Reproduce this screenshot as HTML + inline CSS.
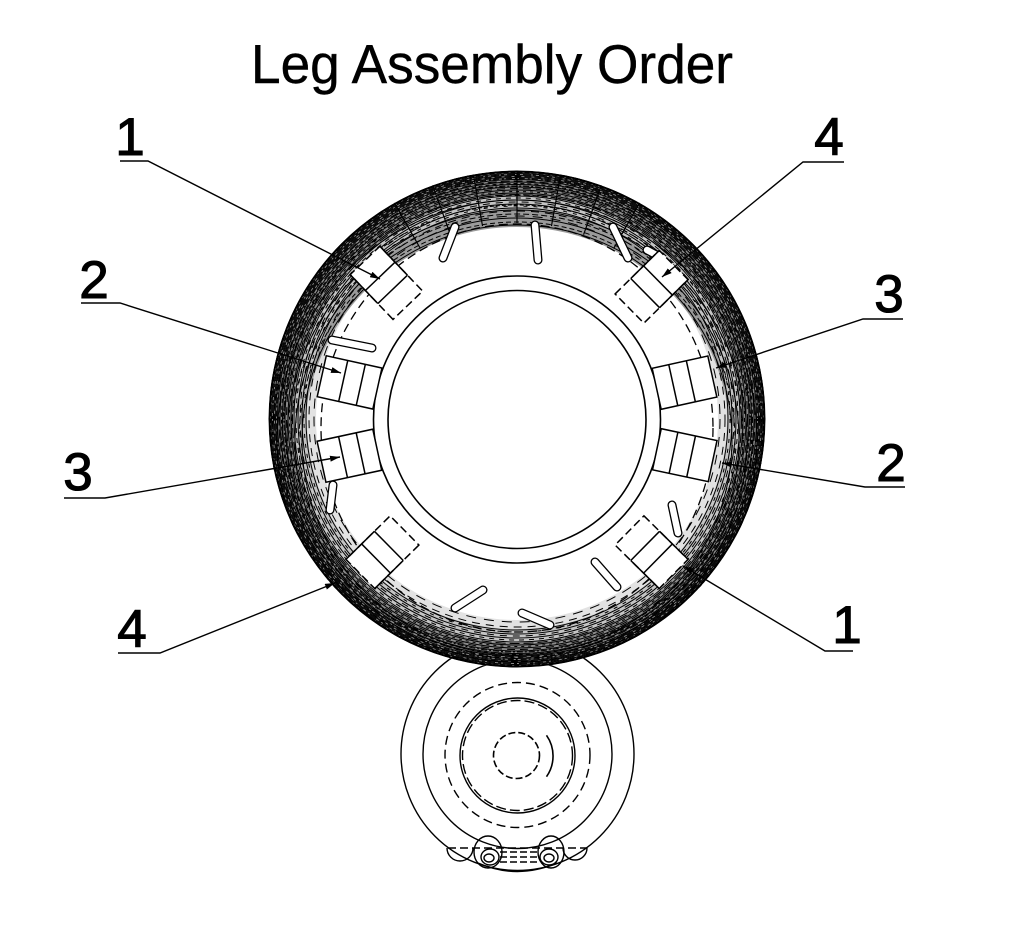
<!DOCTYPE html>
<html><head><meta charset="utf-8"><style>
html,body{margin:0;padding:0;background:#fff;}
svg{display:block;}
</style></head><body>
<svg width="1024" height="933" viewBox="0 0 1024 933" xmlns="http://www.w3.org/2000/svg">
<defs>
<clipPath id="mc"><circle cx="517" cy="419" r="248.5"/></clipPath>
<marker id="ar" markerWidth="10" markerHeight="6" refX="10" refY="3" orient="auto" markerUnits="userSpaceOnUse"><path d="M0,0 L10,3 L0,6z" fill="#000"/></marker>
</defs>
<rect width="1024" height="933" fill="#fff"/>

<!-- Title -->
<text x="251" y="83" font-family="Liberation Sans, Arial, sans-serif" font-size="55" textLength="482" lengthAdjust="spacingAndGlyphs" fill="#000" stroke="#000" stroke-width="0.4">Leg Assembly Order</text>

<!-- Bottom small assembly -->
<g fill="none" stroke="#000" stroke-width="1.4">
<circle cx="517.5" cy="754" r="116.5"/>
<circle cx="517.5" cy="754" r="94.5"/>
<circle cx="517.5" cy="755" r="72.5" stroke-dasharray="9 5"/>
<circle cx="517.5" cy="755.5" r="57.5"/>
<circle cx="517.5" cy="755.5" r="55" stroke-dasharray="10 4"/>
<circle cx="516.5" cy="755.5" r="23" stroke-dasharray="7 3" stroke-width="1.6"/>
<path d="M546.5,735.3 A36,36 0 0 1 546.5,776.7" stroke-width="1.6"/>
<line x1="448" y1="848" x2="587" y2="848" stroke-dasharray="8 4"/>
<path d="M447,848 A13,13 0 0 0 473,848"/>
<path d="M563,848 A12,12 0 0 0 587,848"/>
<ellipse cx="488" cy="852" rx="14" ry="16"/>
<ellipse cx="490" cy="857" rx="9" ry="8"/>
<ellipse cx="489" cy="858" rx="5" ry="4"/>
<ellipse cx="551" cy="852" rx="13" ry="16"/>
<ellipse cx="549" cy="857" rx="9" ry="8"/>
<ellipse cx="549" cy="858" rx="5" ry="4"/>
<line x1="500" y1="852" x2="538" y2="852" stroke-dasharray="7 3"/>
<line x1="500" y1="857" x2="538" y2="857" stroke-dasharray="7 3"/>
<line x1="500" y1="862" x2="538" y2="862" stroke-dasharray="7 3"/>
<path d="M478,863 Q517,880 557,863"/>
</g>

<!-- Main circle -->
<circle cx="517" cy="419" r="248" fill="#fff" stroke="none"/>
<g clip-path="url(#mc)" fill="none">
<circle cx="517" cy="419" r="206" stroke="#e2e2e2" stroke-width="10"/>
<circle cx="517" cy="440" r="224" stroke="#9a9a9a" stroke-width="22"/>
<circle cx="517" cy="419" r="217" stroke="#c4c4c4" stroke-width="14"/>
<circle cx="517" cy="419" r="236" stroke="#8a8a8a" stroke-width="24"/>
<g stroke="#000" stroke-width="1">
<circle cx="517" cy="419" r="247.5" stroke-width="2"/>
<circle cx="517" cy="419" r="245.5"/>
<circle cx="517" cy="419" r="243.5"/>
<circle cx="517" cy="419" r="241.5"/>
<circle cx="517" cy="419" r="239.5"/>
<circle cx="517" cy="419" r="237"/>
<circle cx="517" cy="419" r="234.5"/>
<circle cx="517" cy="419" r="232"/>
<circle cx="517" cy="419" r="229"/>
<circle cx="517" cy="419" r="226"/>
<circle cx="517" cy="419" r="223"/>
<circle cx="517" cy="419" r="219"/>
<circle cx="517" cy="419" r="215"/>
<circle cx="517" cy="419" r="211"/>
<circle cx="517" cy="419" r="246.5" stroke-dasharray="5 2"/>
<circle cx="517" cy="419" r="244.5" stroke-dasharray="3 3 8 2"/>
<circle cx="517" cy="419" r="242.5" stroke-dasharray="7 3"/>
<circle cx="517" cy="419" r="240.5" stroke-dasharray="2 2 6 3"/>
<circle cx="517" cy="419" r="238" stroke-dasharray="9 4"/>
<circle cx="517" cy="419" r="235.5" stroke-dasharray="4 3"/>
<circle cx="517" cy="419" r="233" stroke-dasharray="6 2 2 2"/>
<circle cx="517" cy="419" r="230.5" stroke-dasharray="8 5"/>
<circle cx="517" cy="419" r="227.5" stroke-dasharray="3 4"/>
<circle cx="517" cy="419" r="224.5" stroke-dasharray="10 4"/>
<circle cx="517" cy="419" r="221" stroke-dasharray="5 5"/>
<circle cx="517" cy="419" r="217" stroke-dasharray="7 6"/>
<circle cx="517" cy="419" r="213" stroke-dasharray="4 6"/>
<circle cx="517" cy="419" r="208" stroke-dasharray="8 6"/>
<circle cx="517" cy="419" r="203" stroke-dasharray="10 8"/>
<circle cx="517" cy="440" r="245" stroke-dasharray="6 3"/>
<circle cx="517" cy="440" r="240"/>
<circle cx="517" cy="440" r="235" stroke-dasharray="4 2"/>
<circle cx="517" cy="440" r="230"/>
<circle cx="517" cy="440" r="226" stroke-dasharray="6 3"/>
<circle cx="517" cy="440" r="222"/>
<circle cx="517" cy="440" r="218" stroke-dasharray="5 3"/>
<circle cx="517" cy="440" r="215"/>
<g stroke-width="1.2">
<line x1="517" y1="419" x2="517" y2="165" stroke-dasharray="0 196 60"/>
<line x1="517" y1="419" x2="472" y2="167" stroke-dasharray="0 196 60"/>
<line x1="517" y1="419" x2="562" y2="167" stroke-dasharray="0 196 60"/>
<line x1="517" y1="419" x2="430" y2="178" stroke-dasharray="0 196 60"/>
<line x1="517" y1="419" x2="604" y2="178" stroke-dasharray="0 196 60"/>
<line x1="517" y1="419" x2="390" y2="195" stroke-dasharray="0 196 60"/>
<line x1="517" y1="419" x2="644" y2="195" stroke-dasharray="0 196 60"/>
</g>
</g>
</g>

<!-- inner dashed outline -->
<ellipse cx="517" cy="428" rx="196" ry="204" fill="none" stroke="#000" stroke-width="1.3" stroke-dasharray="9 5"/>

<!-- Inner ring -->
<circle cx="517" cy="419.5" r="143.5" fill="#fff" stroke="#000" stroke-width="1.6"/>
<circle cx="517" cy="419.5" r="129" fill="none" stroke="#000" stroke-width="1.6"/>

<!-- Pills -->
<g stroke-linecap="round" fill="none">
<g stroke="#000" stroke-width="9">
<line x1="455" y1="227" x2="443" y2="258"/>
<line x1="535" y1="225" x2="538" y2="260"/>
<line x1="613" y1="227" x2="628" y2="258"/>
<line x1="332" y1="340" x2="372" y2="348"/>
<line x1="333" y1="485" x2="330" y2="510"/>
<line x1="483" y1="590" x2="455" y2="608"/>
<line x1="522" y1="613" x2="550" y2="625"/>
<line x1="595" y1="562" x2="617" y2="587"/>
<line x1="672" y1="505" x2="678" y2="533"/>
<line x1="647" y1="250" x2="660" y2="257"/>
<line x1="402" y1="537" x2="398" y2="552"/>
</g>
<g stroke="#fff" stroke-width="6.4">
<line x1="455" y1="227" x2="443" y2="258"/>
<line x1="535" y1="225" x2="538" y2="260"/>
<line x1="613" y1="227" x2="628" y2="258"/>
<line x1="332" y1="340" x2="372" y2="348"/>
<line x1="333" y1="485" x2="330" y2="510"/>
<line x1="483" y1="590" x2="455" y2="608"/>
<line x1="522" y1="613" x2="550" y2="625"/>
<line x1="595" y1="562" x2="617" y2="587"/>
<line x1="672" y1="505" x2="678" y2="533"/>
<line x1="647" y1="250" x2="660" y2="257"/>
<line x1="402" y1="537" x2="398" y2="552"/>
</g>
</g>

<!-- Side boxes -->
<g fill="#fff" stroke="#000" stroke-width="1.5">
<g transform="translate(517 419.5) rotate(192.5)">
<rect x="143" y="-21" width="57" height="42"/><line x1="160" y1="-21" x2="160" y2="21"/><line x1="178" y1="-21" x2="178" y2="21"/>
</g>
<g transform="translate(517 419.5) rotate(167.8)">
<rect x="143" y="-21" width="57" height="42"/><line x1="160" y1="-21" x2="160" y2="21"/><line x1="178" y1="-21" x2="178" y2="21"/>
</g>
<g transform="translate(517 419.5) rotate(-12.4)">
<rect x="143" y="-21" width="57" height="42"/><line x1="160" y1="-21" x2="160" y2="21"/><line x1="178" y1="-21" x2="178" y2="21"/>
</g>
<g transform="translate(517 419.5) rotate(12)">
<rect x="143" y="-21" width="57" height="42"/><line x1="160" y1="-21" x2="160" y2="21"/><line x1="178" y1="-21" x2="178" y2="21"/>
</g>
</g>

<!-- Diagonal boxes -->
<g fill="none" stroke="#000" stroke-width="1.5">
<g transform="translate(517 419.5) rotate(-133.7)">
<rect x="158" y="-20.5" width="62" height="41" fill="#fff" stroke-dasharray="8 4"/>
<line x1="180" y1="-20.5" x2="180" y2="20.5"/><line x1="198" y1="-20.5" x2="198" y2="20.5"/>
<line x1="180" y1="-20.5" x2="220" y2="-20.5"/><line x1="180" y1="20.5" x2="220" y2="20.5"/>
</g>
<g transform="translate(517 419.5) rotate(-44.6)">
<rect x="158" y="-20.5" width="62" height="41" fill="#fff" stroke-dasharray="8 4"/>
<line x1="180" y1="-20.5" x2="180" y2="20.5"/><line x1="198" y1="-20.5" x2="198" y2="20.5"/>
<line x1="180" y1="-20.5" x2="220" y2="-20.5"/><line x1="180" y1="20.5" x2="220" y2="20.5"/>
</g>
<g transform="translate(517 419.5) rotate(135.4)">
<rect x="158" y="-20.5" width="62" height="41" fill="#fff" stroke-dasharray="8 4"/>
<line x1="180" y1="-20.5" x2="180" y2="20.5"/><line x1="198" y1="-20.5" x2="198" y2="20.5"/>
<line x1="180" y1="-20.5" x2="220" y2="-20.5"/><line x1="180" y1="20.5" x2="220" y2="20.5"/>
</g>
<g transform="translate(517 419.5) rotate(44.6)">
<rect x="158" y="-20.5" width="62" height="41" fill="#fff" stroke-dasharray="8 4"/>
<line x1="180" y1="-20.5" x2="180" y2="20.5"/><line x1="198" y1="-20.5" x2="198" y2="20.5"/>
<line x1="180" y1="-20.5" x2="220" y2="-20.5"/><line x1="180" y1="20.5" x2="220" y2="20.5"/>
</g>
</g>

<!-- Leaders -->
<g fill="none" stroke="#000" stroke-width="1.4">
<path d="M120,161 H148 L380,279" marker-end="url(#ar)"/>
<path d="M81,303 H120 L341,373" marker-end="url(#ar)"/>
<path d="M64,498 H105 L340,457" marker-end="url(#ar)"/>
<path d="M118,653 H160 L335,583" marker-end="url(#ar)"/>
<path d="M844,162 H803 L662,277" marker-end="url(#ar)"/>
<path d="M903,319 H863 L716,368" marker-end="url(#ar)"/>
<path d="M905,487 H865 L722,463" marker-end="url(#ar)"/>
<path d="M853,651 H825 L683,566" marker-end="url(#ar)"/>
</g>

<!-- Labels -->
<g font-family="Liberation Sans, Arial, sans-serif" font-size="53" fill="#000" stroke="#000" stroke-width="1.1" text-anchor="middle">
<text x="130" y="155">1</text>
<text x="94" y="298">2</text>
<text x="78" y="490">3</text>
<text x="132" y="647">4</text>
<text x="829" y="155">4</text>
<text x="889" y="312">3</text>
<text x="891" y="481">2</text>
<text x="847" y="643">1</text>
</g>
</svg>
</body></html>
